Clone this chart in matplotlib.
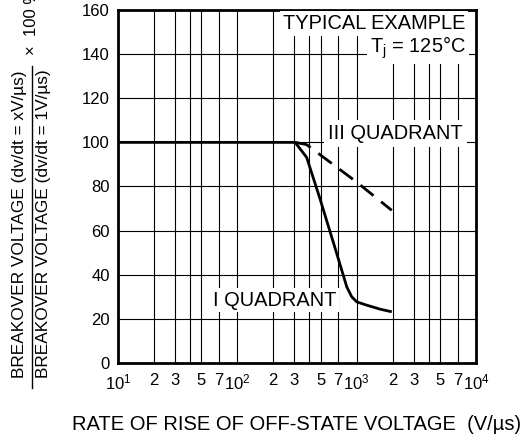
import matplotlib
matplotlib.use("Agg")
import matplotlib.pyplot as plt
from matplotlib.lines import Line2D
from matplotlib.ticker import NullLocator

plt.rcParams['font.family'] = ['Liberation Sans', 'DejaVu Sans']
plt.rcParams['mathtext.fontset'] = 'custom'
plt.rcParams['mathtext.rm'] = 'Liberation Sans'
plt.rcParams['font.size'] = 12

# data
quad1_x = [10, 305, 381, 493, 681, 826, 909, 1002, 1216, 1571, 1968]
quad1_y = [100, 100, 93.2, 74.4, 49.6, 34.5, 30.0, 27.7, 26.2, 24.4, 23.2]
quad3_x = [305, 380, 1000, 1968]
quad3_y = [100, 99, 82, 69.2]

x_ticks = [10, 20, 30, 40, 50, 70, 100, 200, 300, 400, 500, 700,
           1000, 2000, 3000, 4000, 5000, 7000, 10000]
x_labels = [r'$\mathregular{10^1}$', '2', '3', '', '5', '7',
            r'$\mathregular{10^2}$', '2', '3', '', '5', '7',
            r'$\mathregular{10^3}$', '2', '3', '', '5', '7',
            r'$\mathregular{10^4}$']
y_ticks = [0, 20, 40, 60, 80, 100, 120, 140, 160]

fig = plt.figure(figsize=(5.31, 4.41), dpi=100)
ax = fig.add_axes([118 / 531, 1 - 363 / 441, 358 / 531, 353 / 441])

ax.set_xscale('log')
ax.set_xlim(10, 10000)
ax.set_ylim(0, 160)
ax.set_xticks(x_ticks)
ax.set_xticklabels(x_labels)
ax.xaxis.set_minor_locator(NullLocator())
ax.set_yticks(y_ticks)
ax.tick_params(axis='both', length=0, labelsize=12)
ax.tick_params(axis='x', pad=7)
ax.tick_params(axis='y', pad=6)
ax.grid(True, color='black', linewidth=0.8)
for s in ax.spines.values():
    s.set_linewidth(2)

ax.plot(quad1_x, quad1_y, color='black', linewidth=2, solid_capstyle='butt')
ax.plot(quad3_x, quad3_y, color='black', linewidth=2, dashes=(6, 3.5))

# annotations
box = dict(facecolor='white', edgecolor='none', pad=2)
ax.text(8100, 154, 'TYPICAL EXAMPLE', ha='right', va='center', fontsize=14.4, bbox=box)
ax.text(8260, 143, r'T$_\mathregular{j}$ = 125°C', ha='right', va='center',
        fontsize=14.4, bbox=box)
ax.text(7800, 104, 'III QUADRANT', ha='right', va='center', fontsize=14.4,
        bbox=dict(facecolor='white', edgecolor='none', pad=3))
ax.text(62, 28.5, 'I QUADRANT', ha='left', va='center', fontsize=14.4, bbox=box)

ax.set_xlabel('RATE OF RISE OF OFF-STATE VOLTAGE  (V/µs)', fontsize=14.5, labelpad=16)

# y label drawn as a fraction
fig.text(20 / 531, 1 - 224 / 441, 'BREAKOVER VOLTAGE (dv/dt = xV/µs)',
         rotation=90, ha='center', va='center', fontsize=12.4)
fig.text(44 / 531, 1 - 224 / 441, 'BREAKOVER VOLTAGE (dv/dt = 1V/µs)',
         rotation=90, ha='center', va='center', fontsize=12.4)
fig.add_artist(Line2D([32 / 531, 32 / 531], [1 - 388 / 441, 1 - 66 / 441],
                      color='black', linewidth=1))
fig.text(32 / 531, 1 - 55 / 441, '×  100 %', rotation=90,
         ha='center', va='bottom', fontsize=12)

fig.savefig('out.png', dpi=100)
